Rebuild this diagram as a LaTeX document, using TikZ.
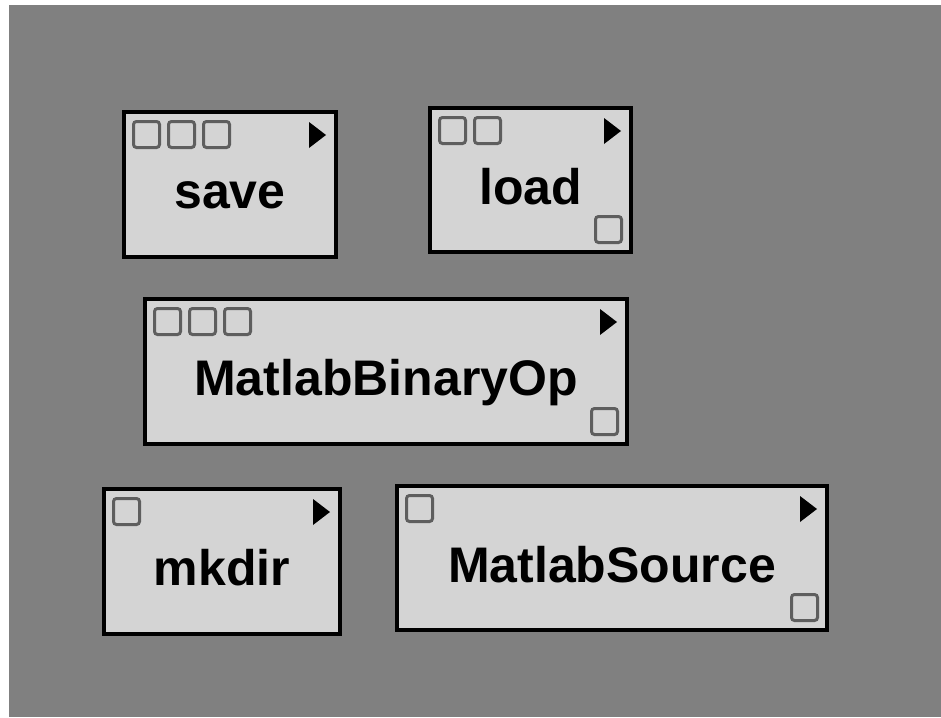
\documentclass[tikz,border=0pt]{standalone}
\usepackage{fontspec}
\setmainfont{Liberation Sans}
\definecolor{bggray}{HTML}{808080}
\definecolor{boxgray}{HTML}{D4D4D4}
\definecolor{portgray}{HTML}{5E5E5E}
\tikzset{
  blk/.style={draw=black, line width=4pt, fill=boxgray, inner sep=0pt},
  port/.style={draw=portgray, line width=3pt, rounded corners=3pt},
  tri/.style={fill=black},
  lbl/.style={font=\fontsize{50}{60}\selectfont\bfseries, anchor=base, inner sep=0pt, text=black}
}
% name, L, T, R, B, label, number of input ports, bottom-right port (1/0)
\newcommand\mkblock[8]{%
  \node[blk, minimum width={#4-#2-4}, minimum height={#5-#3-4}] (#1) at ({(#2+#4)/2},{(#3+#5)/2}) {};
  \foreach \i in {1,...,#7} {\draw[port] ({#2+11.5+35*(\i-1)},{#3+11.5}) rectangle ++(26,26);}
  \fill[tri] ({#4-29},{#3+12}) -- ({#4-29},{#3+38}) -- ({#4-12},{#3+25}) -- cycle;
  \ifnum#8=1 \draw[port] ({#4-37.5},{#5-37.5}) rectangle ++(26,26);\fi
  \node[lbl] (#1-t) at ({(#2+#4)/2},{(#3+#5)/2+24}) {#6};
}
\begin{document}
\begin{tikzpicture}[x=1pt,y=-1pt]
\useasboundingbox (0,0) rectangle (941,717);
\fill[white] (0,0) rectangle (941,717);
\fill[bggray] (9,5) rectangle (941,717);
\mkblock{save}{122}{110}{338}{259}{save}{3}{0}
\mkblock{load}{428}{106}{633}{254}{load}{2}{1}
\mkblock{mbo}{143}{297}{629}{446}{MatlabBinaryOp}{3}{1}
\mkblock{mkdir}{102}{487}{342}{636}{mkdir}{1}{0}
\mkblock{msrc}{395}{484}{829}{632}{MatlabSource}{1}{1}
\end{tikzpicture}
\end{document}
